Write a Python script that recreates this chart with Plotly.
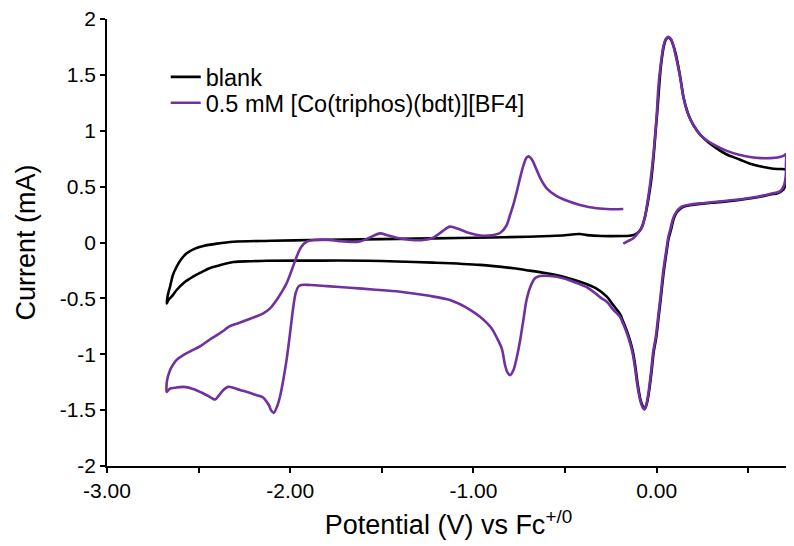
import plotly.graph_objects as go

# Blank scan (potential V vs Fc+/0, current mA)
pot_blank = [-0.182, -0.15, -0.12, -0.095, -0.08, -0.065, -0.05, -0.03, -0.015, -0.005, 0.005, 0.015, 0.025, 0.04,
             0.052, 0.066, 0.08, 0.092, 0.104, 0.118, 0.13, 0.148, 0.168, 0.185, 0.205, 0.24, 0.28, 0.33, 0.38,
             0.45, 0.51, 0.57, 0.62, 0.66, 0.70, 0.71, 0.712, 0.705, 0.69, 0.66,
             0.62, 0.55, 0.42, 0.30, 0.237, 0.17, 0.146, 0.128, 0.11, 0.093, 0.078, 0.066, 0.052, 0.039, 0.022,
             0.012, -0.003, -0.016, -0.028, -0.043, -0.055, -0.066, -0.077, -0.089, -0.103, -0.116, -0.128,
             -0.143, -0.163, -0.182, -0.20, -0.237, -0.272, -0.33, -0.418, -0.50, -0.60, -0.70, -0.782, -0.964,
             -1.22, -1.58, -1.89, -2.13, -2.22, -2.31, -2.40, -2.44, -2.49, -2.53, -2.58, -2.62, -2.645, -2.665,
             -2.674, -2.668, -2.656, -2.64, -2.62, -2.595, -2.565, -2.52, -2.474, -2.40, -2.31, -2.1, -1.89,
             -1.6, -1.22, -0.9, -0.7, -0.58, -0.50, -0.45, -0.418, -0.38, -0.30, -0.18]
cur_blank = [0.058, 0.06, 0.07, 0.10, 0.14, 0.22, 0.34, 0.55, 0.80, 1.0, 1.2, 1.42, 1.6, 1.76,
             1.82, 1.835, 1.81, 1.76, 1.69, 1.58, 1.47, 1.29, 1.17, 1.10, 1.04, 0.96, 0.90, 0.84, 0.79,
             0.745, 0.705, 0.68, 0.665, 0.658, 0.655, 0.64, 0.58, 0.52, 0.47, 0.44,
             0.43, 0.405, 0.375, 0.355, 0.345, 0.33, 0.32, 0.30, 0.27, 0.21, 0.11, 0.04, -0.11, -0.26, -0.51,
             -0.65, -0.86, -0.98, -1.16, -1.35, -1.45, -1.49, -1.46, -1.40, -1.27, -1.11, -0.99,
             -0.89, -0.79, -0.71, -0.64, -0.56, -0.485, -0.41, -0.351, -0.31, -0.276, -0.25, -0.231, -0.20,
             -0.18, -0.163, -0.162, -0.163, -0.168, -0.175, -0.21, -0.23, -0.27, -0.306, -0.36, -0.425, -0.48, -0.515,
             -0.545, -0.47, -0.396, -0.29, -0.217, -0.15, -0.097, -0.055, -0.031, -0.01, 0.007, 0.015, 0.022,
             0.028, 0.037, 0.045, 0.052, 0.058, 0.065, 0.074, 0.076, 0.066, 0.058, 0.058]

# 0.5 mM [Co(triphos)(bdt)][BF4] scan
pot_co = [-0.182, -0.16, -0.127, -0.10, -0.082, -0.065, -0.054, -0.036, -0.018, -0.009, 0.0, 0.01, 0.02, 0.037,
          0.05, 0.064, 0.078, 0.09, 0.10, 0.115, 0.128, 0.146, 0.165, 0.182, 0.20, 0.235, 0.273, 0.33, 0.383,
          0.45, 0.51, 0.57, 0.62, 0.66, 0.692, 0.705,
          0.706, 0.705, 0.695, 0.675, 0.62, 0.55, 0.42, 0.30, 0.237, 0.17, 0.146, 0.128, 0.11, 0.091, 0.075,
          0.064, 0.05, 0.037, 0.02, 0.01, -0.005, -0.018, -0.03, -0.045, -0.056, -0.067, -0.078, -0.09, -0.105,
          -0.118, -0.13, -0.145, -0.165, -0.182, -0.20, -0.237, -0.272, -0.30, -0.33, -0.382, -0.44, -0.51,
          -0.58, -0.636, -0.664, -0.69, -0.71, -0.728, -0.745, -0.765, -0.782, -0.80, -0.815, -0.827, -0.845,
          -0.873, -0.90, -0.927, -0.964, -1.02, -1.128, -1.25, -1.40, -1.55, -1.674, -1.80, -1.89, -1.94,
          -1.956, -1.97, -1.983, -2.0, -2.02, -2.04, -2.056, -2.07, -2.09, -2.105, -2.115, -2.128, -2.15,
          -2.183, -2.23, -2.274, -2.31, -2.338, -2.365, -2.39, -2.41, -2.43, -2.474, -2.53, -2.584, -2.63,
          -2.656, -2.674,
          -2.675, -2.672, -2.66, -2.647, -2.62, -2.584, -2.54, -2.49, -2.44, -2.40, -2.36, -2.33, -2.28,
          -2.237, -2.19, -2.147, -2.11, -2.074, -2.045, -2.02, -1.99, -1.965, -1.94, -1.91, -1.87, -1.80,
          -1.728, -1.66, -1.62, -1.57, -1.51, -1.47, -1.42, -1.35, -1.274, -1.22, -1.17, -1.128, -1.08,
          -1.018, -0.96, -0.90, -0.855, -0.82, -0.80, -0.78, -0.764, -0.745, -0.727, -0.71, -0.697, -0.68,
          -0.655, -0.63, -0.60, -0.55, -0.51, -0.418, -0.327, -0.25, -0.182]
cur_co = [-0.01, 0.01, 0.038, 0.09, 0.13, 0.22, 0.32, 0.52, 0.78, 0.95, 1.13, 1.40, 1.56, 1.755,
          1.82, 1.84, 1.82, 1.77, 1.70, 1.59, 1.48, 1.30, 1.18, 1.11, 1.05, 0.97, 0.915, 0.86, 0.82,
          0.785, 0.765, 0.755, 0.755, 0.76, 0.775, 0.79,
          0.70, 0.60, 0.51, 0.46, 0.435, 0.41, 0.38, 0.36, 0.35, 0.335, 0.327, 0.31, 0.28, 0.22, 0.12,
          0.05, -0.10, -0.246, -0.50, -0.64, -0.85, -0.97, -1.15, -1.35, -1.45, -1.495, -1.47, -1.41, -1.28,
          -1.12, -1.0, -0.90, -0.80, -0.73, -0.665, -0.60, -0.53, -0.50, -0.46, -0.40, -0.36, -0.32,
          -0.30, -0.30, -0.32, -0.40, -0.515, -0.70, -0.874, -1.04, -1.143, -1.187, -1.16, -1.10, -0.95,
          -0.85, -0.77, -0.72, -0.665, -0.60, -0.515, -0.475, -0.44, -0.42, -0.405, -0.39, -0.38, -0.38,
          -0.396, -0.45, -0.575, -0.80, -1.053, -1.25, -1.38, -1.46, -1.525, -1.50, -1.46, -1.426, -1.385,
          -1.366, -1.34, -1.32, -1.30, -1.292, -1.32, -1.37, -1.405, -1.39, -1.351, -1.31, -1.292, -1.30,
          -1.307, -1.337,
          -1.28, -1.232, -1.16, -1.113, -1.05, -1.008, -0.97, -0.927, -0.87, -0.829, -0.785, -0.748, -0.72,
          -0.694, -0.665, -0.634, -0.59, -0.515, -0.44, -0.366, -0.24, -0.127, -0.04, 0.007, 0.022, 0.025,
          0.012, 0.005, 0.01, 0.04, 0.082, 0.065, 0.043, 0.025, 0.022, 0.043, 0.10, 0.142, 0.12,
          0.082, 0.062, 0.065, 0.085, 0.15, 0.246, 0.35, 0.45, 0.58, 0.69, 0.76, 0.77, 0.74,
          0.65, 0.56, 0.485, 0.42, 0.387, 0.336, 0.306, 0.298, 0.30]

x_tick_vals = [-3, -2, -1, 0]
x_tick_text = ["-3.00", "-2.00", "-1.00", "0.00"]
y_tick_vals = [-2, -1.5, -1, -0.5, 0, 0.5, 1, 1.5, 2]
y_tick_text = ["-2", "-1.5", "-1", "-0.5", "0", "0.5", "1", "1.5", "2"]

FONT = "Arial, Liberation Sans, sans-serif"
TICK_SIZE = 21
TITLE_SIZE = 27
LEGEND_SIZE = 23.5

fig = go.Figure()
fig.add_trace(go.Scatter(x=pot_blank, y=cur_blank, mode="lines", name="blank", legend="legend",
                         line=dict(color="#000000", width=2.6, shape="spline", smoothing=0.9)))
fig.add_trace(go.Scatter(x=pot_co, y=cur_co, mode="lines", name="0.5 mM [Co(triphos)(bdt)][BF4]",
                         legend="legend2",
                         line=dict(color="#7030A0", width=2.6, shape="spline", smoothing=0.9)))

legend_common = dict(xanchor="left", yanchor="middle", bgcolor="rgba(0,0,0,0)",
                     font=dict(size=LEGEND_SIZE, family=FONT, color="#000000"), itemwidth=30)

# page body has an 8px margin, so the figure is sized to fit inside the window
fig.update_layout(
    width=786, height=538,
    margin=dict(l=99, r=4, t=11, b=80, autoexpand=False),
    paper_bgcolor="white", plot_bgcolor="white",
    font=dict(family=FONT, color="#000000"),
    showlegend=True,
    legend=dict(x=0.086, y=0.870, **legend_common),
    legend2=dict(x=0.086, y=0.812, **legend_common),
)
fig.update_xaxes(
    range=[-3, 0.728], showgrid=False, zeroline=False, automargin=False,
    showline=True, linecolor="#000000", linewidth=1.5,
    tickmode="array", tickvals=x_tick_vals, ticktext=x_tick_text,
    ticks="outside", ticklen=5, tickcolor="#000000", tickwidth=1.5,
    ticklabeloverflow="allow",
    minor=dict(dtick=0.5, tick0=-3, ticks="outside", ticklen=5, tickcolor="#000000", tickwidth=1.5, showgrid=False),
    tickfont=dict(size=TICK_SIZE, family=FONT, color="#000000"),
    title=dict(text="Potential (V) vs Fc<sup>+/0</sup>", font=dict(size=TITLE_SIZE, family=FONT, color="#000000"), standoff=14),
)
fig.update_yaxes(
    range=[-2, 2], showgrid=False, zeroline=False, automargin=False,
    showline=True, linecolor="#000000", linewidth=1.5,
    tickmode="array", tickvals=y_tick_vals, ticktext=y_tick_text,
    ticks="outside", ticklen=5, tickcolor="#000000", tickwidth=1.5,
    ticklabeloverflow="allow",
    tickfont=dict(size=TICK_SIZE, family=FONT, color="#000000"),
    title=dict(text="Current (mA)", font=dict(size=TITLE_SIZE, family=FONT, color="#000000"), standoff=16),
)

fig.write_html("out.html")
